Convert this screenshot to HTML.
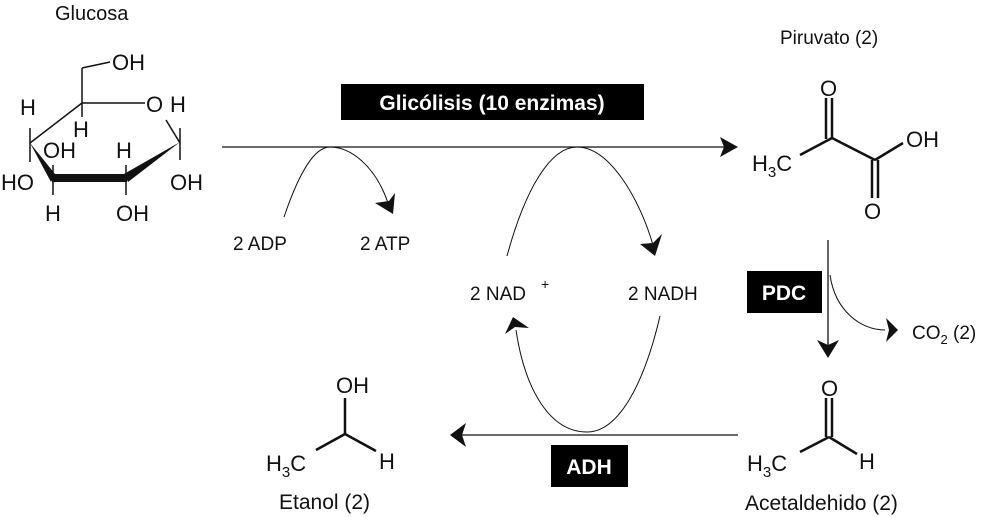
<!DOCTYPE html>
<html><head><meta charset="utf-8"><style>
html,body{margin:0;padding:0;background:#fff;}
svg{display:block;}
text{font-family:"Liberation Sans",Arial,sans-serif;fill:#111;}
</style></head><body>
<svg width="1000" height="517" viewBox="0 0 1000 517" xmlns="http://www.w3.org/2000/svg">
<!-- Glucose -->
<text x="55" y="20" font-size="20">Glucosa</text>
<g stroke="#111" fill="none" stroke-width="1.5">
<line x1="82" y1="68" x2="110" y2="62"/>
<line x1="82" y1="68" x2="82" y2="103"/>
<line x1="82" y1="103" x2="145" y2="103"/>
<line x1="82" y1="103" x2="82" y2="117"/>
<line x1="82" y1="103" x2="30" y2="143"/>
<line x1="30" y1="143" x2="30" y2="128"/>
<line x1="30" y1="143" x2="30" y2="162"/>
<line x1="166" y1="120" x2="180" y2="143"/>
<line x1="180" y1="143" x2="180" y2="128"/>
<line x1="180" y1="143" x2="180" y2="160"/>
<line x1="53" y1="178" x2="53" y2="165"/>
<line x1="53" y1="178" x2="53" y2="195"/>
<line x1="126" y1="178" x2="126" y2="165"/>
<line x1="126" y1="178" x2="126" y2="195"/>
</g>
<polygon points="30,143 55,174 51,182" fill="#111"/>
<polygon points="52,174 127,174 127,182 52,182" fill="#111"/>
<polygon points="124,174 180,142 128,182" fill="#111"/>
<g font-size="22">
<text x="112" y="70">OH</text>
<text x="146" y="112">O</text>
<text x="170" y="112">H</text>
<text x="73" y="137">H</text>
<text x="20" y="115">H</text>
<text x="1" y="190">HO</text>
<text x="43" y="158">OH</text>
<text x="116" y="158">H</text>
<text x="170" y="190">OH</text>
<text x="45" y="221">H</text>
<text x="116" y="221">OH</text>
</g>
<!-- main arrow -->
<line x1="222" y1="147" x2="725" y2="147" stroke="#111" stroke-width="1.3"/>
<polygon points="738,147 720,137 724,147 720,157" fill="#111"/>
<rect x="341" y="84" width="303" height="36" fill="#000"/>
<text x="492" y="110" font-size="21" font-weight="bold" text-anchor="middle" style="fill:#fff">Glicólisis (10 enzimas)</text>
<!-- ADP/ATP arc -->
<path d="M284,217 C300,170 315,147 330,147 C350,147 375,165 388,203" stroke="#111" fill="none" stroke-width="1"/>
<polygon points="393,214 375,203 389,201 395,193" fill="#111"/>
<text x="233" y="250" font-size="19">2 ADP</text>
<text x="360" y="250" font-size="19">2 ATP</text>
<!-- NAD arc -->
<path d="M507,256 C525,190 550,147 577,147 C610,147 640,200 653,245" stroke="#111" fill="none" stroke-width="1"/>
<polygon points="655,256 640,244 653,243 662,234" fill="#111"/>
<text x="470" y="300" font-size="19">2 NAD</text>
<text x="541" y="289" font-size="14">+</text>
<text x="628" y="300" font-size="19">2 NADH</text>
<!-- lower arc -->
<path d="M660,316 C645,380 620,432 587,432 C550,432 525,390 516,330" stroke="#111" fill="none" stroke-width="1"/>
<polygon points="513,317 505,334 515,327 529,328" fill="#111"/>
<!-- bottom arrow -->
<line x1="738" y1="435" x2="462" y2="435" stroke="#111" stroke-width="1.3"/>
<polygon points="450,435 466,423 462,435 466,447" fill="#111"/>
<rect x="551" y="445" width="77" height="42" fill="#000"/>
<text x="589" y="474" font-size="21" font-weight="bold" text-anchor="middle" style="fill:#fff">ADH</text>
<!-- Pyruvate -->
<text x="780" y="44" font-size="19">Piruvato (2)</text>
<g stroke="#111" stroke-width="2.5" fill="none">
<line x1="800" y1="155" x2="832" y2="138"/>
<line x1="832" y1="138" x2="875" y2="160"/>
<line x1="875" y1="160" x2="903" y2="143"/>
<line x1="826" y1="98" x2="826" y2="139"/>
<line x1="832" y1="98" x2="832" y2="139"/>
<line x1="872" y1="160" x2="872" y2="198"/>
<line x1="878" y1="160" x2="878" y2="198"/>
</g>
<g font-size="22">
<text x="820" y="96">O</text>
<text x="752" y="171">H<tspan font-size="15" dy="6">3</tspan><tspan dy="-6">C</tspan></text>
<text x="906" y="147">OH</text>
<text x="864" y="219">O</text>
</g>
<!-- PDC -->
<line x1="828" y1="240" x2="828" y2="345" stroke="#111" stroke-width="1.3"/>
<polygon points="828,358 817,340 828,345 839,340" fill="#111"/>
<rect x="747" y="271" width="75" height="42" fill="#000"/>
<text x="784" y="300" font-size="21" font-weight="bold" text-anchor="middle" style="fill:#fff">PDC</text>
<path d="M830,275 C835,310 860,330 885,330" stroke="#111" fill="none" stroke-width="1"/>
<polygon points="898,330 886,318 889,330 886,342" fill="#111"/>
<text x="912" y="339" font-size="19">CO<tspan font-size="13" dy="5">2</tspan><tspan dy="-5"> (2)</tspan></text>
<!-- Acetaldehyde -->
<g stroke="#111" stroke-width="2.5" fill="none">
<line x1="826" y1="398" x2="826" y2="437"/>
<line x1="832" y1="398" x2="832" y2="437"/>
<line x1="800" y1="452" x2="829" y2="437"/>
<line x1="829" y1="437" x2="857" y2="454"/>
</g>
<g font-size="22">
<text x="821" y="396">O</text>
<text x="747" y="471">H<tspan font-size="15" dy="6">3</tspan><tspan dy="-6">C</tspan></text>
<text x="859" y="469">H</text>
<text x="745" y="510" font-size="21">Acetaldehido (2)</text>
</g>
<!-- Ethanol -->
<g stroke="#111" stroke-width="2.5" fill="none">
<line x1="345" y1="398" x2="345" y2="434"/>
<line x1="316" y1="450" x2="345" y2="434"/>
<line x1="345" y1="434" x2="376" y2="451"/>
</g>
<g font-size="22">
<text x="336" y="393">OH</text>
<text x="266" y="471">H<tspan font-size="15" dy="6">3</tspan><tspan dy="-6">C</tspan></text>
<text x="379" y="469">H</text>
<text x="279" y="509" font-size="21">Etanol (2)</text>
</g>
</svg>
</body></html>
